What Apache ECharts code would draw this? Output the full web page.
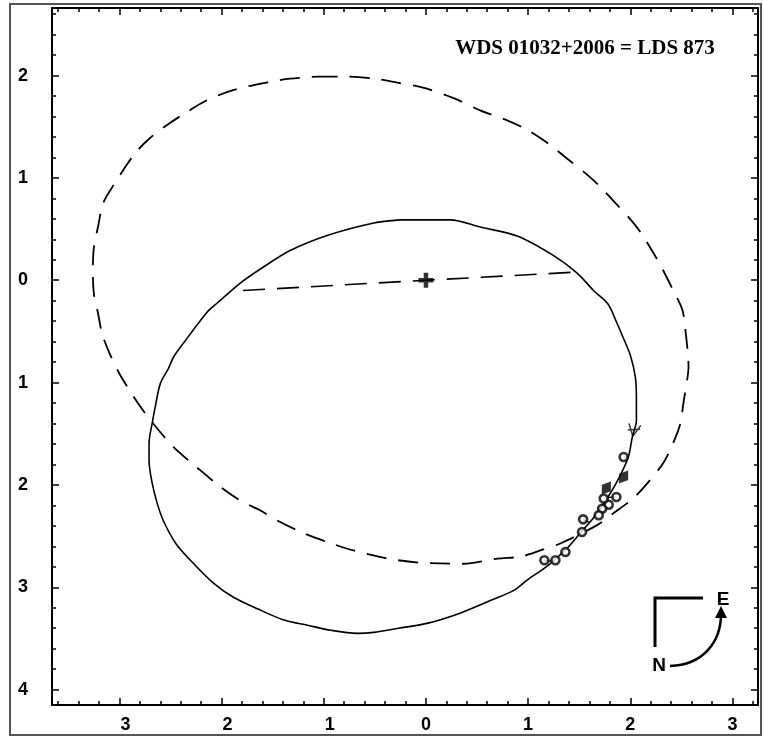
<!DOCTYPE html>
<html>
<head>
<meta charset="utf-8">
<script src="https://cdn.jsdelivr.net/npm/echarts@6/dist/echarts.min.js"></script>
<style>
html,body{margin:0;padding:0;background:#fff;}
#c{width:764px;height:738px;}
</style>
</head>
<body>
<div id="c"></div>
<script>
// ---- data (arcsec, x = east offset, y = north offset) ----
const titleText = 'WDS 01032+2006 = LDS 873';
const xTickLabels = [-3, -2, -1, 0, 1, 2, 3];
const yTickLabels = [-4, -3, -2, -1, 0, 1, 2];
const X_MIN = -3.66, X_MAX = 3.25, Y_MIN = -4.15, Y_MAX = 2.66;

const orbitSolid = [[-0.25,0.59],[0.24,0.59],[0.53,0.52],[0.90,0.43],[1.25,0.24],[1.48,0.07],[1.64,-0.10],[1.78,-0.23],[1.87,-0.42],[1.93,-0.56],[2.00,-0.73],[2.05,-0.95],[2.06,-1.17],[2.06,-1.37],[2.02,-1.53],[1.98,-1.73],[1.89,-1.93],[1.78,-2.12],[1.64,-2.32],[1.51,-2.47],[1.38,-2.62],[1.19,-2.79],[0.99,-2.93],[0.86,-3.03],[0.63,-3.13],[0.34,-3.25],[0.02,-3.35],[-0.27,-3.40],[-0.51,-3.44],[-0.67,-3.45],[-0.93,-3.42],[-1.16,-3.37],[-1.39,-3.32],[-1.65,-3.21],[-1.88,-3.10],[-2.08,-2.96],[-2.33,-2.71],[-2.45,-2.57],[-2.57,-2.35],[-2.63,-2.18],[-2.68,-1.98],[-2.71,-1.76],[-2.71,-1.59],[-2.68,-1.40],[-2.65,-1.24],[-2.60,-1.01],[-2.52,-0.86],[-2.47,-0.75],[-2.37,-0.61],[-2.14,-0.31],[-2.04,-0.22],[-1.82,-0.03],[-1.62,0.11],[-1.33,0.29],[-0.96,0.44],[-0.51,0.56],[-0.25,0.59]];

const orbitDashed = [[-1.06,1.99],[-0.79,1.99],[-0.51,1.97],[-0.28,1.93],[-0.02,1.88],[0.27,1.78],[0.53,1.66],[0.80,1.56],[0.99,1.47],[1.19,1.34],[1.38,1.19],[1.58,1.03],[1.71,0.91],[1.83,0.78],[1.98,0.62],[2.10,0.47],[2.23,0.26],[2.32,0.10],[2.42,-0.10],[2.51,-0.29],[2.54,-0.49],[2.57,-0.85],[2.56,-0.95],[2.52,-1.20],[2.49,-1.40],[2.42,-1.59],[2.32,-1.79],[2.17,-1.98],[2.03,-2.13],[1.83,-2.28],[1.68,-2.39],[1.32,-2.57],[1.12,-2.64],[0.93,-2.70],[0.70,-2.72],[0.37,-2.77],[-0.05,-2.76],[-0.37,-2.72],[-0.71,-2.64],[-0.93,-2.57],[-1.20,-2.47],[-1.45,-2.35],[-1.62,-2.25],[-1.82,-2.15],[-2.01,-2.02],[-2.24,-1.83],[-2.47,-1.63],[-2.67,-1.40],[-2.82,-1.20],[-2.99,-0.93],[-3.09,-0.73],[-3.17,-0.52],[-3.21,-0.32],[-3.25,-0.13],[-3.26,0.10],[-3.25,0.32],[-3.21,0.52],[-3.16,0.75],[-3.07,0.91],[-2.96,1.08],[-2.84,1.25],[-2.70,1.39],[-2.53,1.52],[-2.33,1.65],[-2.14,1.76],[-1.88,1.86],[-1.52,1.94],[-1.33,1.97],[-1.06,1.99]];

const nodeLine = [[-1.79,-0.10],[0,0],[1.48,0.08]];
const primary = [[0,0]];

const obsCircles = [[1.935,-1.727],[1.864,-2.118],[1.789,-2.193],[1.724,-2.232],[1.691,-2.296],[1.740,-2.133],[1.538,-2.336],[1.528,-2.460],[1.365,-2.655],[1.267,-2.736],[1.159,-2.736]];
const obsDiamonds = [[1.935,-1.922],[1.766,-2.030]];
const residuals = [[[1.935,-1.727],[1.98,-1.73]],[[1.864,-2.118],[1.776,-2.121]],[[1.538,-2.336],[1.60,-2.365]],[[1.159,-2.736],[1.238,-2.746]]];
const motionArrow = [[2.035,-1.466]];

// ---- axis tick helpers ----
function steps(lo, hi, st){ const a=[]; for(let v=Math.ceil(lo/st-1e-9); v*st<=hi+1e-9; v++){ a.push(+(v*st).toFixed(2)); } return a; }
const xMinor = steps(X_MIN, X_MAX, 0.2);
const yMinor = steps(Y_MIN, Y_MAX, 0.2);

const labelFont = {fontFamily:'Liberation Sans', fontWeight:'bold', fontSize:18, color:'#000'};

function xAx(pos, major, showLabel){
  return {
    type:'value', min:X_MIN, max:X_MAX, position:pos,
    axisLine:{show:major, onZero:false, lineStyle:{color:'#000', width:2}},
    axisTick:{show:true, inside:true, length: major?7:4, customValues: major? xTickLabels : xMinor, lineStyle:{color:'#000', width:1.5}},
    axisLabel:{show:showLabel, customValues:xTickLabels, margin:11, ...labelFont,
      formatter: v => v < 0 ? '{n|' + Math.abs(v) + '}' : '{p|' + v + '}',
      rich:{ n:{...labelFont, padding:[0,0,0,12]}, p:{...labelFont} } },
    splitLine:{show:false}
  };
}
function yAx(pos, major, showLabel){
  return {
    type:'value', min:Y_MIN, max:Y_MAX, position:pos,
    axisLine:{show:major, onZero:false, lineStyle:{color:'#000', width:2}},
    axisTick:{show:true, inside:true, length: major?7:4, customValues: major? yTickLabels : yMinor, lineStyle:{color:'#000', width:1.5}},
    axisLabel:{show:showLabel, customValues:yTickLabels, margin:24, ...labelFont,
      formatter: v => String(Math.abs(v)) },
    splitLine:{show:false}
  };
}

const chart = echarts.init(document.getElementById('c'), null, {renderer:'canvas'});
const residualSeries = residuals.map(r => ({
  type:'line', data:r, showSymbol:false, silent:true,
  lineStyle:{color:'#000', width:1.3}, z:4
}));

chart.setOption({
  animation:false,
  backgroundColor:'#fff',
  title:{ text:titleText, left:580, top:33, textAlign:'center',
    textStyle:{fontFamily:'Liberation Serif', fontWeight:'bold', fontSize:21, color:'#000'} },
  grid:{ left:52, right:6, top:8, bottom:33, containLabel:false },
  xAxis:[ xAx('bottom', true, true), xAx('bottom', false, false), xAx('top', true, false), xAx('top', false, false) ],
  yAxis:[ yAx('left', true, true), yAx('left', false, false), yAx('right', true, false), yAx('right', false, false) ],
  series:[
    { type:'line', data:orbitDashed, smooth:0.3, showSymbol:false, silent:true,
      lineStyle:{color:'#000', width:1.8, type:[20,12]}, z:2 },
    { type:'line', data:orbitSolid, smooth:0.3, showSymbol:false, silent:true,
      lineStyle:{color:'#000', width:1.6}, z:3 },
    { type:'line', data:nodeLine, showSymbol:false, silent:true,
      lineStyle:{color:'#000', width:1.6, type:[22,12]}, z:2 },
    ...residualSeries,
    { type:'scatter', data:primary, symbol:'path://M3.5,0H6.5V3.5H10V6.5H6.5V10H3.5V6.5H0V3.5H3.5Z', symbolSize:15,
      itemStyle:{color:'#000'}, z:6 },
    { type:'scatter', data:obsCircles, symbol:'circle', symbolSize:8,
      itemStyle:{color:'#fff', borderColor:'#000', borderWidth:2.6}, z:6 },
    { type:'scatter', data:obsDiamonds, symbol:'diamond', symbolSize:[11,16], symbolRotate:-35,
      itemStyle:{color:'#000'}, z:6 },
    { type:'scatter', data:motionArrow, symbol:'path://M0,0L5,9L10,0M0,5L10,3', symbolSize:[12,12], symbolRotate:-10,
      itemStyle:{color:'transparent', borderColor:'#000', borderWidth:1.5}, z:6 }
  ],
  graphic:[
    { type:'rect', shape:{x:10, y:4, width:751, height:731}, style:{fill:'none', stroke:'#555', lineWidth:2}, silent:true },
    { type:'polyline', shape:{points:[[703,598],[655,598],[655,647]]}, style:{stroke:'#000', lineWidth:3, fill:'none'}, silent:true },
    { type:'text', x:723, y:600, style:{text:'E', fontFamily:'Liberation Sans', fontWeight:'bold', fontSize:19, fill:'#000', align:'center', verticalAlign:'middle'}, silent:true },
    { type:'text', x:659, y:666, style:{text:'N', fontFamily:'Liberation Sans', fontWeight:'bold', fontSize:19, fill:'#000', align:'center', verticalAlign:'middle'}, silent:true },
    { type:'bezierCurve', shape:{x1:670, y1:666, x2:721, y2:614, cpx1:703, cpy1:665, cpx2:721, cpy2:642}, style:{stroke:'#000', lineWidth:2.5, fill:'none'}, silent:true },
    { type:'polygon', shape:{points:[[715,618],[721,606],[727,618]]}, style:{fill:'#000'}, silent:true }
  ]
});
</script>
</body>
</html>
